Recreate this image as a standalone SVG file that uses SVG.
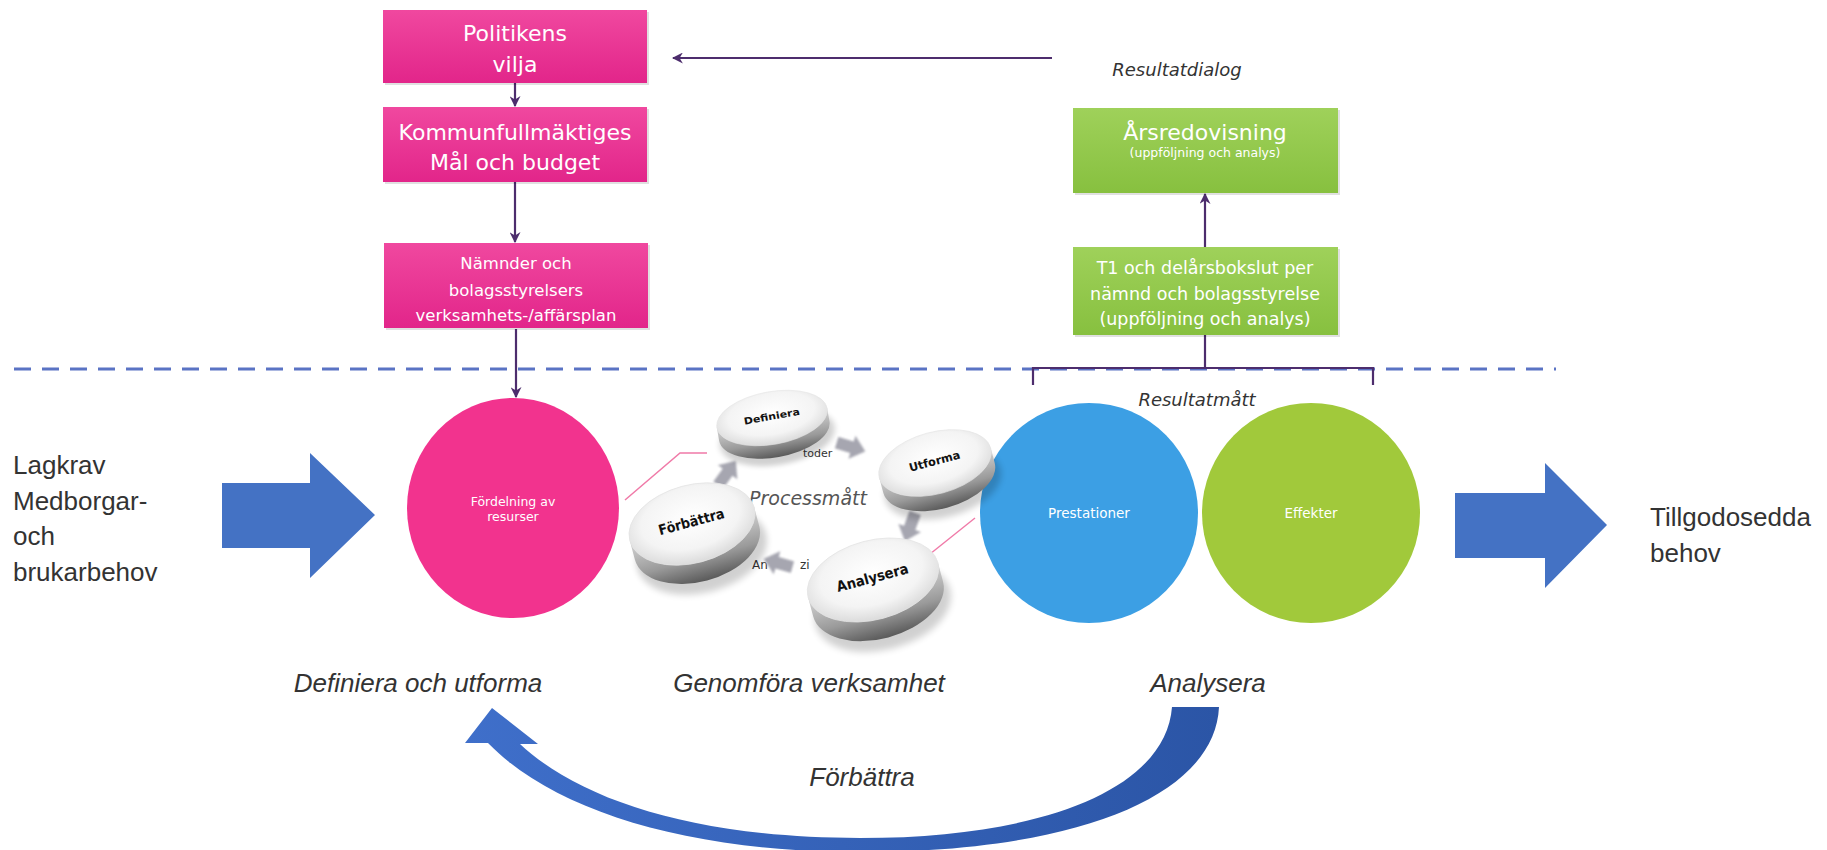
<svg xmlns="http://www.w3.org/2000/svg" width="1827" height="850" viewBox="0 0 1827 850">
<defs>
<style>
.pinkbox{fill:url(#pinkGrad);}
.greenbox{fill:url(#greenGrad);}
.shadow{fill:#000;opacity:0.12;}
.wt{font-family:"DejaVu Sans",sans-serif;fill:#fff;text-anchor:middle;}
.lbl{font-family:"Liberation Sans",Arial,sans-serif;fill:#333;}
.ital{font-family:"Liberation Sans",Arial,sans-serif;font-style:italic;fill:#333;text-anchor:middle;font-size:26px;}
.itl2{font-family:"DejaVu Sans",sans-serif;font-style:italic;fill:#333;text-anchor:middle;font-size:18px;}
.conn{stroke:#4d2d6d;stroke-width:2.2;fill:none;}
.blk{fill:#4472c4;}
.garrow{fill:#a6a6b0;filter:url(#soft);}
.disklbl{font-family:"DejaVu Sans",sans-serif;font-weight:bold;font-size:11px;fill:#111;text-anchor:middle;}
</style>
<linearGradient id="pinkGrad" x1="0" y1="0" x2="0" y2="1"><stop offset="0" stop-color="#f0489f"/><stop offset="1" stop-color="#e2258a"/></linearGradient>
<linearGradient id="greenGrad" x1="0" y1="0" x2="0" y2="1"><stop offset="0" stop-color="#9fd15a"/><stop offset="1" stop-color="#87c03f"/></linearGradient>
<radialGradient id="diskTop" cx="50%" cy="42%" r="60%"><stop offset="0" stop-color="#ffffff"/><stop offset="0.65" stop-color="#f4f4f4"/><stop offset="1" stop-color="#d8d8d8"/></radialGradient>
<linearGradient id="diskSide" x1="0" y1="0" x2="0" y2="1"><stop offset="0" stop-color="#d6d6d6"/><stop offset="0.6" stop-color="#9a9a9a"/><stop offset="1" stop-color="#5a5a5a"/></linearGradient>
<linearGradient id="curveGrad" x1="0" y1="0" x2="1" y2="0"><stop offset="0" stop-color="#3f6fca"/><stop offset="1" stop-color="#2b55a6"/></linearGradient>
<filter id="soft" x="-30%" y="-30%" width="160%" height="160%"><feGaussianBlur stdDeviation="1"/></filter>
<filter id="dshadow" x="-20%" y="-20%" width="140%" height="160%"><feGaussianBlur stdDeviation="3"/></filter>
<marker id="ah" viewBox="0 0 10 10" refX="9" refY="5" markerWidth="11" markerHeight="11" markerUnits="userSpaceOnUse" orient="auto"><path d="M0,0 L10,5 L0,10 L3,5 Z" fill="#4d2d6d"/></marker>
<g id="disk">
<ellipse cx="2" cy="22" rx="58" ry="32" fill="#000" opacity="0.18" filter="url(#dshadow)"/>
<path d="M-56,0 L-56,15 A56,30 0 0 0 56,15 L56,0 Z" fill="url(#diskSide)"/>
<ellipse cx="0" cy="0" rx="56" ry="30" fill="url(#diskTop)" stroke="#e4e4e4" stroke-width="0.6"/>
</g>
<polygon id="ga" points="-15,-6 1,-6 1,-12 15,0 1,12 1,6 -15,6"/>
</defs>

<rect width="1827" height="850" fill="#ffffff"/>

<!-- dashed divider -->
<line x1="14" y1="369" x2="1556" y2="369" stroke="#5a73c4" stroke-width="3" stroke-dasharray="17 11"/>

<!-- connectors -->
<g id="connectors">
<line class="conn" x1="515" y1="83" x2="515" y2="106" marker-end="url(#ah)"/>
<line class="conn" x1="515" y1="182" x2="515" y2="242" marker-end="url(#ah)"/>
<line class="conn" x1="516" y1="329" x2="516" y2="397" marker-end="url(#ah)"/>
<line class="conn" x1="1052" y1="58" x2="673" y2="58" marker-end="url(#ah)"/>
<line class="conn" x1="1205" y1="247" x2="1205" y2="194" marker-end="url(#ah)"/>
<line class="conn" x1="1205" y1="335" x2="1205" y2="368"/>
<path class="conn" d="M1033,385 L1033,368 L1373,368 L1373,385"/>
<path d="M625,500 L680,453 L707,453" stroke="#f07aa8" stroke-width="1.5" fill="none"/>
<path d="M925,558 L975,518" stroke="#f07aa8" stroke-width="1.5" fill="none"/>
</g>

<!-- top pink boxes -->
<g id="politikens">
<rect class="shadow" x="385" y="12" width="264" height="73"/>
<rect class="pinkbox" x="383" y="10" width="264" height="73"/>
<text class="wt" x="515" y="41" font-size="22">Politikens</text>
<text class="wt" x="515" y="72" font-size="22">vilja</text>
</g>
<g id="kommunfullmaktige">
<rect class="shadow" x="385" y="109" width="264" height="75"/>
<rect class="pinkbox" x="383" y="107" width="264" height="75"/>
<text class="wt" x="515" y="140" font-size="22">Kommunfullmäktiges</text>
<text class="wt" x="515" y="170" font-size="22">Mål och budget</text>
</g>
<g id="namnder">
<rect class="shadow" x="386" y="245" width="264" height="85"/>
<rect class="pinkbox" x="384" y="243" width="264" height="85"/>
<text class="wt" x="516" y="269" font-size="16.5">Nämnder och</text>
<text class="wt" x="516" y="296" font-size="16.5">bolagsstyrelsers</text>
<text class="wt" x="516" y="321" font-size="16.5">verksamhets-/affärsplan</text>
</g>

<!-- green boxes -->
<text id="resultatdialog" class="itl2" x="1177" y="76">Resultatdialog</text>
<g id="arsredovisning">
<rect class="shadow" x="1075" y="110" width="265" height="85"/>
<rect class="greenbox" x="1073" y="108" width="265" height="85"/>
<text class="wt" x="1205" y="140" font-size="22">Årsredovisning</text>
<text class="wt" x="1205" y="157" font-size="12.5">(uppföljning och analys)</text>
</g>
<g id="t1">
<rect class="shadow" x="1075" y="249" width="265" height="88"/>
<rect class="greenbox" x="1073" y="247" width="265" height="88"/>
<text class="wt" x="1205" y="274" font-size="17.5">T1 och delårsbokslut per</text>
<text class="wt" x="1205" y="300" font-size="17.5">nämnd och bolagsstyrelse</text>
<text class="wt" x="1205" y="325" font-size="17.5">(uppföljning och analys)</text>
</g>

<text id="resultatmatt" class="itl2" x="1197" y="406">Resultatmått</text>

<!-- left input -->
<g id="lagkrav">
<text class="lbl" font-size="26" x="13" y="474">Lagkrav</text>
<text class="lbl" font-size="26" x="13" y="510">Medborgar-</text>
<text class="lbl" font-size="26" x="13" y="545">och</text>
<text class="lbl" font-size="26" x="13" y="581">brukarbehov</text>
</g>
<polygon id="arrowIn" class="blk" points="222,483 310,483 310,453 375,515 310,578 310,548 222,548"/>

<!-- circles -->
<g id="fordelning">
<ellipse cx="513" cy="508" rx="106" ry="110" fill="#f2338e"/>
<text class="wt" x="513" y="506" font-size="12.5">Fördelning av</text>
<text class="wt" x="513" y="521" font-size="12.5">resurser</text>
</g>
<g id="prestationer">
<ellipse cx="1089" cy="513" rx="109" ry="110" fill="#3c9fe4"/>
<text class="wt" x="1089" y="518" font-size="13.5">Prestationer</text>
</g>
<g id="effekter">
<ellipse cx="1311" cy="513" rx="109" ry="110" fill="#a1c93b"/>
<text class="wt" x="1311" y="518" font-size="13.5">Effekter</text>
</g>

<!-- process cycle -->
<g id="process">
<text font-family="DejaVu Sans,sans-serif" font-size="11" fill="#333" x="803" y="457">toder</text>
<text font-family="DejaVu Sans,sans-serif" font-size="12" fill="#333" x="752" y="569">An<tspan x="800">zi</tspan></text>
<text x="808" y="505" font-family="DejaVu Sans,sans-serif" font-style="italic" font-size="19" fill="#555" text-anchor="middle">Processmått</text>
<use href="#ga" class="garrow" transform="translate(727,473) rotate(-54)"/>
<use href="#ga" class="garrow" transform="translate(851,447) rotate(17)"/>
<use href="#ga" class="garrow" transform="translate(910,527) rotate(110)"/>
<use href="#ga" class="garrow" transform="translate(778,563) rotate(196)"/>
</g>
<g id="definiera" transform="translate(772,418) rotate(-10) scale(1,0.88)">
<use href="#disk"/>
<text class="disklbl" x="0" y="2">Definiera</text>
</g>
<g id="utforma" transform="translate(935,463) rotate(-15) scale(1.03)">
<use href="#disk"/>
<text class="disklbl" x="0" y="2">Utforma</text>
</g>
<g id="forbattra-disk" transform="translate(692,524) rotate(-15) scale(1.15,1.3)">
<use href="#disk"/>
<text class="disklbl" x="0" y="2">Förbättra</text>
</g>
<g id="analysera-disk" transform="translate(873,580) rotate(-15) scale(1.2,1.32)">
<use href="#disk"/>
<text class="disklbl" x="0" y="2">Analysera</text>
</g>

<!-- right output -->
<polygon id="arrowOut" class="blk" points="1455,493 1545,493 1545,463 1607,525 1545,588 1545,558 1455,558"/>
<g id="tillgodosedda">
<text class="lbl" font-size="26" x="1650" y="526">Tillgodosedda</text>
<text class="lbl" font-size="26" x="1650" y="562">behov</text>
</g>

<!-- stage labels -->
<text class="ital" x="418" y="692">Definiera och utforma</text>
<text class="ital" x="809" y="692">Genomföra verksamhet</text>
<text class="ital" x="1208" y="692">Analysera</text>

<!-- improvement loop -->
<path id="loop" fill="url(#curveGrad)" d="M1219,707 C1215,795 1080,852 860,852 C690,852 555,812 488,743 L465,743 L492,708 L538,744 L520,744 C580,800 695,838 860,838 C1045,838 1166,788 1172,707 Z"/>
<text class="ital" x="862" y="786" font-size="27">Förbättra</text>
</svg>
